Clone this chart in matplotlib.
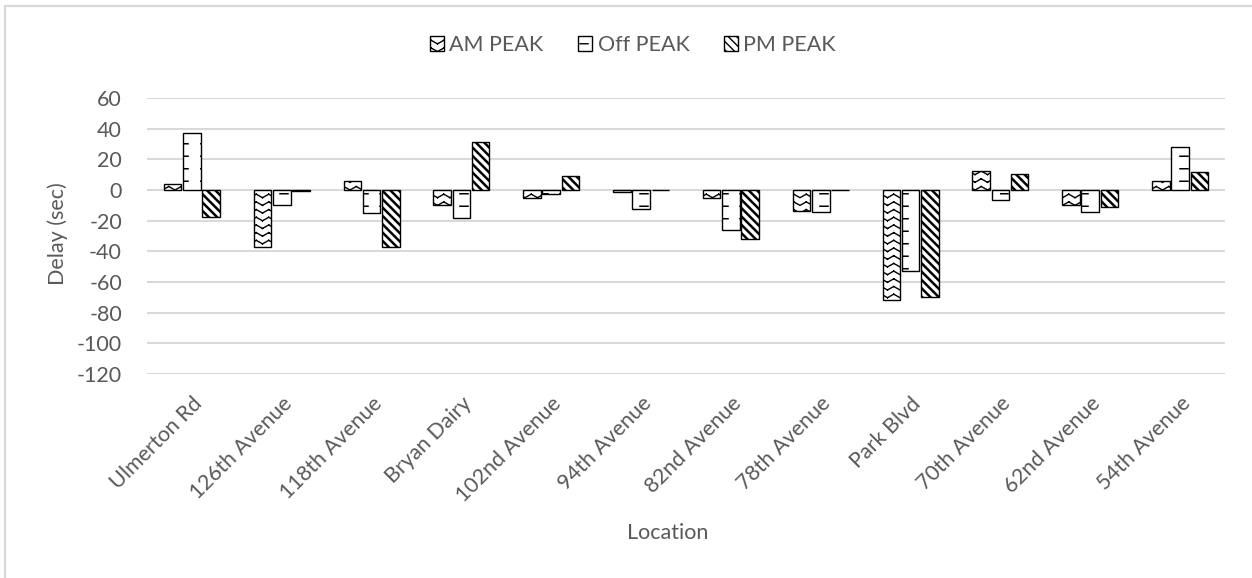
import warnings
import numpy as np
import matplotlib
matplotlib.use("Agg")
import matplotlib.pyplot as plt
import matplotlib.hatch as mhatch
from matplotlib.path import Path
from matplotlib.patches import Rectangle

warnings.filterwarnings("ignore")

# ---- data -------------------------------------------------------------
locations = ["Ulmerton Rd", "126th Avenue", "118th Avenue", "Bryan Dairy",
             "102nd Avenue", "94th Avenue", "82nd Avenue", "78th Avenue",
             "Park Blvd", "70th Avenue", "62nd Avenue", "54th Avenue"]
am_peak = [4, -37, 6, -10, -5, -1, -5, -14, -72, 12.5, -9.5, 6]
off_peak = [37, -10, -15, -18, -2.5, -12.5, -26, -14.5, -53, -6.5, -14.5, 28]
pm_peak = [-17.5, -0.4, -37, 31, 9, 0, -32, 0, -70, 10.5, -11, 12]
series_names = ["AM PEAK", "Off PEAK", "PM PEAK"]
y_ticks = [-120, -100, -80, -60, -40, -20, 0, 20, 40, 60]


# ---- custom fill patterns ----------------------------------------------
class ZigzagHatch(mhatch.HatchPatternBase):
    """Stacked chevron rows built from separate segments, triggered by 'z'."""
    rows, teeth, amp = 13, 8, 0.035

    def __init__(self, hatch, density):
        self.on = hatch.count('z') > 0
        self.segs = 2 * self.teeth
        self.num_vertices = self.rows * self.segs * 2 if self.on else 0

    def set_vertices_and_codes(self, vertices, codes):
        xs = np.linspace(0, 1, self.segs + 1)
        zig = np.where(np.arange(self.segs + 1) % 2 == 0, 0.0, self.amp)
        k = 0
        for r in range(self.rows):
            y0 = (r + 0.3) / self.rows
            for s in range(self.segs):
                vertices[k] = (xs[s], y0 + zig[s])
                vertices[k + 1] = (xs[s + 1], y0 + zig[s + 1])
                codes[k] = Path.MOVETO
                codes[k + 1] = Path.LINETO
                k += 2


class RulerHatch(mhatch.HatchPatternBase):
    """Short horizontal dashes, triggered by 'r'."""
    rows, cols, length = 8, 5, 0.08

    def __init__(self, hatch, density):
        self.on = hatch.count('r') > 0
        self.num_vertices = self.rows * self.cols * 2 if self.on else 0

    def set_vertices_and_codes(self, vertices, codes):
        k = 0
        for r in range(self.rows):
            y = (r + 0.5) / self.rows
            for c in range(self.cols):
                x0 = c / self.cols
                vertices[k] = (x0, y)
                vertices[k + 1] = (x0 + self.length, y)
                codes[k] = Path.MOVETO
                codes[k + 1] = Path.LINETO
                k += 2


mhatch._hatch_types.extend([ZigzagHatch, RulerHatch])

# ---- styling ----------------------------------------------------------
plt.rcParams["font.family"] = ["Lato", "DejaVu Sans"]
plt.rcParams["hatch.color"] = "black"
text_color = "#595959"
grid_color = "#d9d9d9"

fig = plt.figure(figsize=(12.52, 5.78), dpi=100)
ax = fig.add_axes([147 / 1252, 1 - 374 / 578, (1225 - 147) / 1252, (374 - 98) / 578])

# chart frame (only its top and left edges fall inside the canvas)
fig.patches.append(Rectangle((5 / 1252, -0.05), 1.2, (578 - 6) / 578 + 0.05,
                             transform=fig.transFigure, fill=False,
                             edgecolor=grid_color, linewidth=1.6))

x = np.arange(len(locations))
width = 0.195
offsets = [-0.215, 0.0, 0.215]
hatches = ["z", "r", "\\\\\\\\"]
hatch_widths = [1.0, 1.1, 1.8]
series = [am_peak, off_peak, pm_peak]

handles = []
for vals, off, hatch, hw, name in zip(series, offsets, hatches, hatch_widths,
                                      series_names):
    with plt.rc_context({"hatch.linewidth": hw}):
        bars = ax.bar(x + off, vals, width, facecolor="white", edgecolor="black",
                      linewidth=1.0, hatch=hatch, label=name, zorder=3)
    for b in bars:
        if hasattr(b, "set_hatch_linewidth"):
            b.set_hatch_linewidth(hw)
    handles.append(bars)

ax.set_xlim(-0.5, len(locations) - 0.5)
ax.set_ylim(-120, 60)
ax.set_yticks(y_ticks)
ax.set_yticklabels([str(v) for v in y_ticks])
ax.yaxis.grid(True, color=grid_color, linewidth=1.5, zorder=0)
ax.set_axisbelow(True)
for s in ax.spines.values():
    s.set_visible(False)
ax.tick_params(axis="both", length=0, colors=text_color, labelsize=15.5)
ax.tick_params(axis="y", pad=18)

ax.set_xticks(x)
ax.set_xticklabels(locations, rotation=45, ha="right", va="top",
                   rotation_mode="anchor", color=text_color, fontsize=15.5)
ax.tick_params(axis="x", pad=14)

fig.text(58 / 1252, 1 - 234 / 578, "Delay (sec)", rotation=90, ha="center",
         va="center", color=text_color, fontsize=15.5)
fig.text(668 / 1252, 1 - 533 / 578, "Location", ha="center", va="center",
         color=text_color, fontsize=15.5)

leg = fig.legend(handles=handles, labels=series_names, loc="center",
                 bbox_to_anchor=(633 / 1252, 1 - 45 / 578), ncol=3,
                 frameon=False, fontsize=15.5, handlelength=0.65,
                 handleheight=0.65, handletextpad=0.25, columnspacing=1.6)
for t in leg.get_texts():
    t.set_color(text_color)

fig.savefig("out.png", dpi=100, facecolor="white")
